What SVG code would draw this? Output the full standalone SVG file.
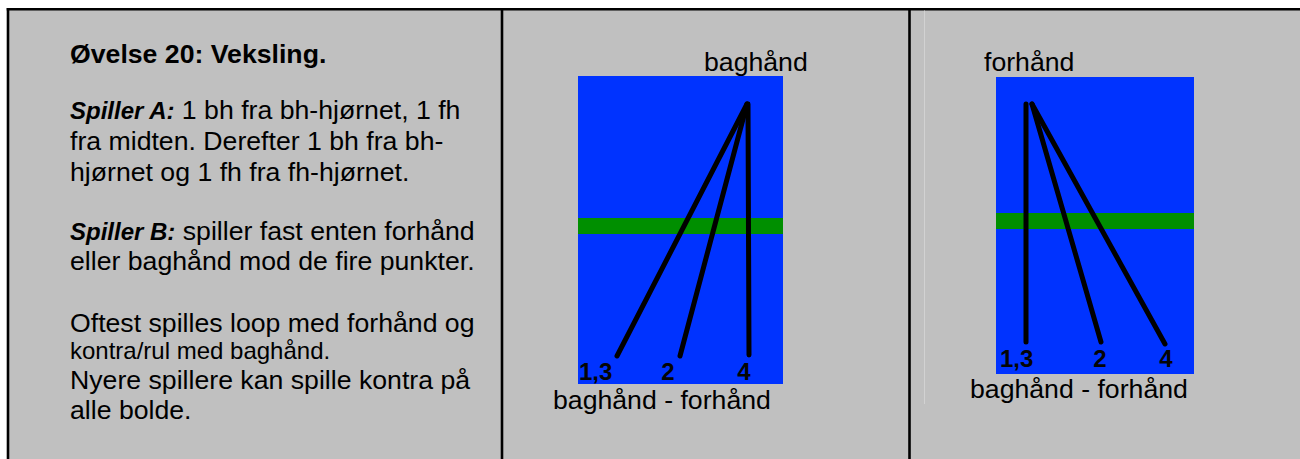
<svg xmlns="http://www.w3.org/2000/svg" width="1300" height="459" viewBox="0 0 1300 459">
<style>
text{font-family:"Liberation Sans",Arial,sans-serif;fill:#000}
.b{font-size:26.67px}
.t{font-size:26.67px;font-weight:bold}
.s{font-size:24px}
.bi{font-size:24px;font-weight:bold;font-style:italic}
.num{font-size:24px;font-weight:bold;fill:#050505}
.court{fill:#0033FF}
.net{fill:#008F00}
.shot{stroke:#000;stroke-width:5;stroke-linecap:round;fill:none}
.rule{stroke:#000;stroke-width:2.6}
</style>
<rect x="0" y="0" width="1300" height="459" fill="#fff"/>
<rect x="8" y="9" width="1292" height="450" fill="#C0C0C0"/>
<g id="table">
<line class="rule" x1="6.7" y1="9.3" x2="1300" y2="9.3"/>
<line class="rule" x1="8" y1="8" x2="8" y2="459"/>
<line class="rule" x1="502" y1="8" x2="502" y2="459"/>
<line class="rule" x1="909.5" y1="8" x2="909.5" y2="459"/>
<line x1="924.5" y1="10.5" x2="924.5" y2="404" stroke="#D2D2D2" stroke-width="1"/>
</g>
<g id="description">
<text class="t" x="70" y="63">Øvelse 20: Veksling.</text>
<text class="b" x="70" y="119"><tspan class="bi">Spiller A:</tspan> 1 bh fra bh-hjørnet, 1 fh</text>
<text class="b" x="70" y="150">fra midten. Derefter 1 bh fra bh-</text>
<text class="b" x="70" y="181">hjørnet og 1 fh fra fh-hjørnet.</text>
<text class="b" x="70" y="240"><tspan class="bi">Spiller B:</tspan> spiller fast enten forhånd</text>
<text class="b" x="70" y="270">eller baghånd mod de fire punkter.</text>
<text class="b" x="70" y="332">Oftest spilles loop med forhånd og</text>
<text class="s" x="70" y="359">kontra/rul med baghånd.</text>
<text class="b" x="70" y="389">Nyere spillere kan spille kontra på</text>
<text class="b" x="70" y="419">alle bolde.</text>
</g>
<g id="court1">
<rect class="court" x="578" y="76" width="205" height="308"/>
<rect class="net" x="578" y="218" width="205" height="16"/>
<text class="b" x="704" y="71">baghånd</text>
<text class="num" x="579" y="380">1,3</text>
<text class="num" x="668" y="380" text-anchor="middle">2</text>
<text class="num" x="744" y="380" text-anchor="middle">4</text>
<text class="b" x="553" y="409">baghånd - forhånd</text>
</g>
<g id="court2">
<rect class="court" x="996" y="77" width="198" height="297"/>
<rect class="net" x="996" y="213" width="198" height="16"/>
<text class="b" x="984" y="71">forhånd</text>
<text class="num" x="1000" y="367">1,3</text>
<text class="num" x="1100" y="367" text-anchor="middle">2</text>
<text class="num" x="1166" y="367" text-anchor="middle">4</text>
<text class="b" x="970" y="398">baghånd - forhånd</text>
</g>
<g id="connectors">
<line class="shot" x1="747" y1="104" x2="617" y2="356"/>
<line class="shot" x1="747" y1="104" x2="680" y2="356"/>
<line class="shot" x1="748" y1="104" x2="749" y2="355"/>
<line class="shot" x1="1026" y1="104" x2="1026" y2="342"/>
<line class="shot" x1="1032" y1="104" x2="1101" y2="342"/>
<line class="shot" x1="1032" y1="104" x2="1165" y2="344"/>
</g>
</svg>
